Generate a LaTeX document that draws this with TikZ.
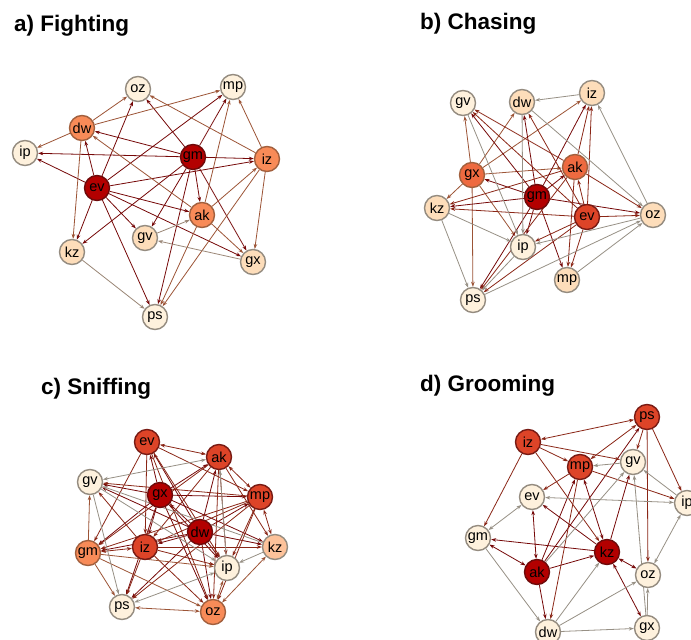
\documentclass[tikz,border=0pt]{standalone}
\usepackage{fontspec}
\setmainfont{Liberation Sans}
\usetikzlibrary{arrows.meta}
\pgfdeclarelayer{bg}
\pgfsetlayers{bg,main}
\definecolor{cA}{HTML}{FEF1DD}
\definecolor{cB}{HTML}{FDDDBA}
\definecolor{cC}{HTML}{FDC29A}
\definecolor{cD}{HTML}{F88B58}
\definecolor{cE}{HTML}{EE6A40}
\definecolor{cF}{HTML}{DD4428}
\definecolor{cG}{HTML}{B30000}
\definecolor{bL}{HTML}{958C80}
\definecolor{bM}{HTML}{A2603E}
\definecolor{bD}{HTML}{6E0A0A}
\definecolor{eDk}{HTML}{760808}
\definecolor{eRd}{HTML}{8A2616}
\definecolor{eBr}{HTML}{9C5436}
\definecolor{eGr}{HTML}{979085}
\definecolor{ePe}{HTML}{9A8676}
\begin{document}
\begin{tikzpicture}[x=1pt,y=-1pt,
  >={Stealth[length=5pt,width=3.6pt]},
  nd/.style={circle,minimum size=25pt,inner sep=0pt,line width=1.4pt,font=\fontsize{14.5}{16}\selectfont},
  nA/.style={nd,fill=cA,draw=bL},
  nB/.style={nd,fill=cB,draw=bL},
  nC/.style={nd,fill=cC,draw=bL},
  nD/.style={nd,fill=cD,draw=bM},
  nE/.style={nd,fill=cE,draw=bM},
  nF/.style={nd,fill=cF,draw=bD!80!bM},
  nG/.style={nd,fill=cG,draw=bD},
  ed/.style={line width=0.8pt,->},
  ebi/.style={line width=0.8pt,<->},
  ttl/.style={anchor=base west,font=\fontsize{22.5}{26}\selectfont\bfseries,inner sep=0pt}]
\useasboundingbox (0,0) rectangle (691,640);
\begin{pgfonlayer}{bg}
\fill[white] (0,0) rectangle (691,640);
\end{pgfonlayer}
% titles
\node[ttl] (ta) at (14,31) {a) Fighting};
\node[ttl] (tb) at (420,29) {b) Chasing};
\node[ttl] (tc) at (41,394) {c) Sniffing};
\node[ttl] (td) at (420,391) {d) Grooming};

% ---------------- panel a ----------------
\node[nA] (aoz) at (138,89) {oz};
\node[nA] (amp) at (233,87) {mp};
\node[nD] (adw) at (82,128) {dw};
\node[nA] (aip) at (25,153) {ip};
\node[nG] (agm) at (193,157) {gm};
\node[nD] (aiz) at (267,159) {iz};
\node[nG] (aev) at (97,188) {ev};
\node[nD] (aak) at (202,215) {ak};
\node[nB] (agv) at (145,238) {gv};
\node[nB] (akz) at (72,252) {kz};
\node[nB] (agx) at (253,262) {gx};
\node[nA] (aps) at (155,317) {ps};
\begin{pgfonlayer}{bg}
\foreach \t in {ip,dw,oz,mp,iz,ak,gv,gx,kz,ps}
  \draw[ed,eDk] (aev) -- (a\t);
\foreach \t in {oz,dw,ip,iz,mp,kz,gv,ak,gx,ps}
  \draw[ed,eDk] (agm) -- (a\t);
\foreach \t in {oz,mp,ip,kz}
  \draw[ed,eBr] (adw) -- (a\t);
\foreach \t in {oz,mp,gx,ps}
  \draw[ed,eBr] (aiz) -- (a\t);
\foreach \t in {dw,mp,iz,gx,ps}
  \draw[ed,eBr] (aak) -- (a\t);
\draw[ed,ePe] (agv) -- (aak);
\draw[ed,ePe] (agx) -- (agv);
\draw[ed,ePe] (akz) -- (aps);
\end{pgfonlayer}

% ---------------- panel b ----------------
\node[nA] (bgv) at (463,103) {gv};
\node[nB] (bdw) at (522,102) {dw};
\node[nB] (biz) at (592,93) {iz};
\node[nE] (bgx) at (472,175) {gx};
\node[nE] (bak) at (575,167) {ak};
\node[nG] (bgm) at (537,197) {gm};
\node[nB] (bkz) at (437,208) {kz};
\node[nF] (bev) at (587,217) {ev};
\node[nB] (boz) at (653,215) {oz};
\node[nA] (bip) at (523,247) {ip};
\node[nB] (bmp) at (567,280) {mp};
\node[nA] (bps) at (473,300) {ps};
\begin{pgfonlayer}{bg}
\draw[ed,eGr] (biz) -- (bdw);
\foreach \t in {gv,dw,iz,ak,kz,ps,ip}
  \draw[ed,eBr] (bgx) -- (b\t);
\foreach \t in {gx,kz,gv,dw,iz,ak,ip,ps,mp,oz}
  \draw[ed,eDk] (bgm) -- (b\t);
\foreach \t in {gv,dw,iz,ak,kz,oz,ip,mp,ps}
  \draw[ed,eRd] (bev) -- (b\t);
\foreach \t in {gv,iz,kz,oz,mp,ps}
  \draw[ed,eRd] (bak) -- (b\t);
\foreach \s/\t in {dw/ip,dw/oz,gv/ip,kz/ip,kz/ps,oz/iz,oz/ip,ip/ps,mp/oz,ps/oz}
  \draw[ed,eGr] (b\s) -- (b\t);
\end{pgfonlayer}

% ---------------- panel c ----------------
\node[nF] (cev) at (147,442) {ev};
\node[nF] (cak) at (219,457) {ak};
\node[nA] (cgv) at (90,482) {gv};
\node[nG] (cgx) at (160,495) {gx};
\node[nF] (cmp) at (260,497) {mp};
\node[nG] (cdw) at (200,532) {dw};
\node[nF] (ciz) at (145,547) {iz};
\node[nD] (cgm) at (88,553) {gm};
\node[nC] (ckz) at (275,547) {kz};
\node[nA] (cip) at (227,568) {ip};
\node[nA] (cps) at (122,607) {ps};
\node[nD] (coz) at (213,612) {oz};
\begin{pgfonlayer}{bg}
\foreach \t in {ev,ak,gv,mp,iz,gm,kz,ip,ps,oz}
  \draw[ed,eDk] (cgx) -- (c\t);
\foreach \t in {ev,ak,gv,gx,mp,iz,gm,kz,ip,ps,oz}
  \draw[ed,eDk] (cdw) -- (c\t);
\draw[ebi,eRd] (cev) -- (cak);
\foreach \t in {iz,gm,oz,ip,mp}
  \draw[ed,eRd] (cev) -- (c\t);
\foreach \t in {iz,gm,oz,ip,kz}
  \draw[ed,eRd] (cak) -- (c\t);
\draw[ebi,eRd] (cak) -- (cmp);
\foreach \t in {gv,iz,gm,ip,oz,ps}
  \draw[ed,eRd] (cmp) -- (c\t);
\draw[ebi,eRd] (cmp) -- (ckz);
\foreach \t in {gv,ip,oz,kz,ps}
  \draw[ed,eRd] (ciz) -- (c\t);
\draw[ebi,eRd] (ciz) -- (cgm);
\foreach \t in {gv,ps,oz,ip}
  \draw[ed,eBr] (cgm) -- (c\t);
\foreach \t in {ps,ip,kz}
  \draw[ebi,eBr] (coz) -- (c\t);
\draw[ed,eGr] (cgv) -- (cps);
\draw[ed,eGr] (cgv) -- (cip);
\draw[ebi,eGr] (cak) -- (cgv);
\draw[ebi,eGr] (cps) -- (cip);
\draw[ed,eGr] (ckz) -- (cip);
\draw[ed,eGr] (ckz) -- (cgv);
\draw[ed,eGr] (cip) -- (cak);
\end{pgfonlayer}

% ---------------- panel d ----------------
\node[nF] (dps) at (647,417) {ps};
\node[nF] (diz) at (528,442) {iz};
\node[nA] (dgv) at (633,462) {gv};
\node[nF] (dmp) at (580,467) {mp};
\node[nA] (dev) at (532,497) {ev};
\node[nA] (dip) at (687,503) {ip};
\node[nA] (dgm) at (478,538) {gm};
\node[nG] (dkz) at (607,552) {kz};
\node[nG] (dak) at (537,572) {ak};
\node[nA] (doz) at (648,575) {oz};
\node[nA] (dgx) at (647,628) {gx};
\node[nA] (ddw) at (548,632) {dw};
\begin{pgfonlayer}{bg}
\foreach \t in {mp,ps,kz,dw}
  \draw[ed,eDk] (dak) -- (d\t);
\draw[ebi,eDk] (dak) -- (dev);
\draw[ebi,eDk] (dak) -- (dgm);
\foreach \t in {gv,ev,gm}
  \draw[ed,eDk] (dkz) -- (d\t);
\foreach \t in {mp,oz,gx}
  \draw[ebi,eDk] (dkz) -- (d\t);
\foreach \t in {mp,gv,gm,kz}
  \draw[ed,eRd] (diz) -- (d\t);
\draw[ebi,eRd] (dps) -- (diz);
\draw[ebi,eRd] (dps) -- (dmp);
\foreach \t in {gv,ip,oz}
  \draw[ed,eRd] (dps) -- (d\t);
\foreach \t in {ev,ip,dw}
  \draw[ed,eRd] (dmp) -- (d\t);
\foreach \s/\t in {gv/mp,gm/dw,dw/kz,dw/oz,dw/gx,gx/gv,gx/oz,ip/gv,ak/gv}
  \draw[ed,eGr] (d\s) -- (d\t);
\foreach \s/\t in {ev/ip,ev/gm,oz/ip}
  \draw[ebi,eGr] (d\s) -- (d\t);
\end{pgfonlayer}
\end{tikzpicture}
\end{document}
